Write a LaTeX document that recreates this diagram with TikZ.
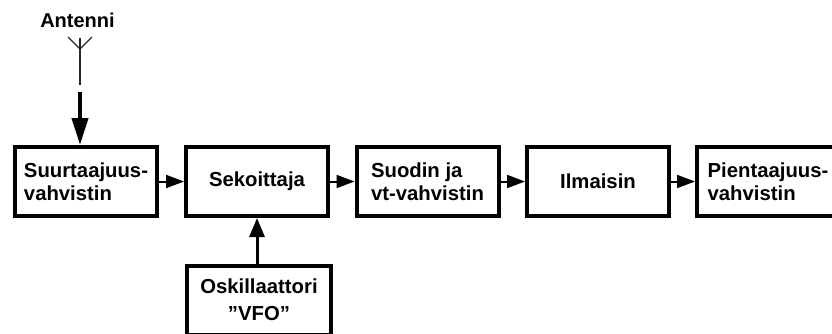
\documentclass[tikz,border=0pt]{standalone}
\usepackage{fontspec}
\setmainfont{Liberation Sans}
\usetikzlibrary{arrows.meta}
\tikzset{
  blk/.style={draw=black, line width=4pt, minimum width=142pt, minimum height=69pt,
    inner sep=0pt, align=left, font=\fontsize{20.3}{22.5}\selectfont\bfseries},
  lbl/.style={inner sep=0pt, font=\fontsize{20}{22.5}\selectfont\bfseries},
  harrow/.style={line width=2pt, -{Triangle[length=18pt,width=13pt]}},
  varrow/.style={line width=3pt, -{Triangle[length=19pt,width=15pt]}},
  antarrow/.style={line width=4pt, -{Triangle[length=27pt,width=16pt]}},
  antline/.style={line width=1.3pt, black!85}
}
\begin{document}
\begin{tikzpicture}[x=1pt,y=-1pt]
\useasboundingbox (0,0) rectangle (832,333);
\clip (0,0) rectangle (832,333);
\node[blk] (b1) at (86,181.5) {Suurtaajuus-\\vahvistin};
\node[blk] (b2) at (257,181.5) {Sekoittaja};
\node[blk] (b3) at (427.5,181.5) {Suodin ja\\vt-vahvistin};
\node[blk] (b4) at (598,181.5) {Ilmaisin};
\node[blk] (b5) at (768,181.5) {Pientaajuus-\\vahvistin};
\node[blk, minimum width=144pt, align=center, font=\fontsize{20.3}{27}\selectfont\bfseries] (osk) at (259,300) {Oskillaattori\\"VFO"};
\node[lbl, anchor=base] (ant) at (77.5,27) {Antenni};
\coordinate (atop) at (80,38);
\coordinate (aj) at (80,49);
\coordinate (al) at (68,37);
\coordinate (ar) at (92,37);
\coordinate (abot) at (80,85);
\coordinate (astart) at (80,92);
\draw[antline] (atop) -- (abot);
\draw[antline] (al) -- (aj) -- (ar);
\draw[antarrow] (astart) -- (astart |- b1.north);
\draw[harrow] (b1.east) -- (b2.west);
\draw[harrow] (b2.east) -- (b3.west);
\draw[harrow] (b3.east) -- (b4.west);
\draw[harrow] (b4.east) -- (b5.west);
\draw[varrow] (osk.north -| b2.south) -- (b2.south);
\end{tikzpicture}
\end{document}
